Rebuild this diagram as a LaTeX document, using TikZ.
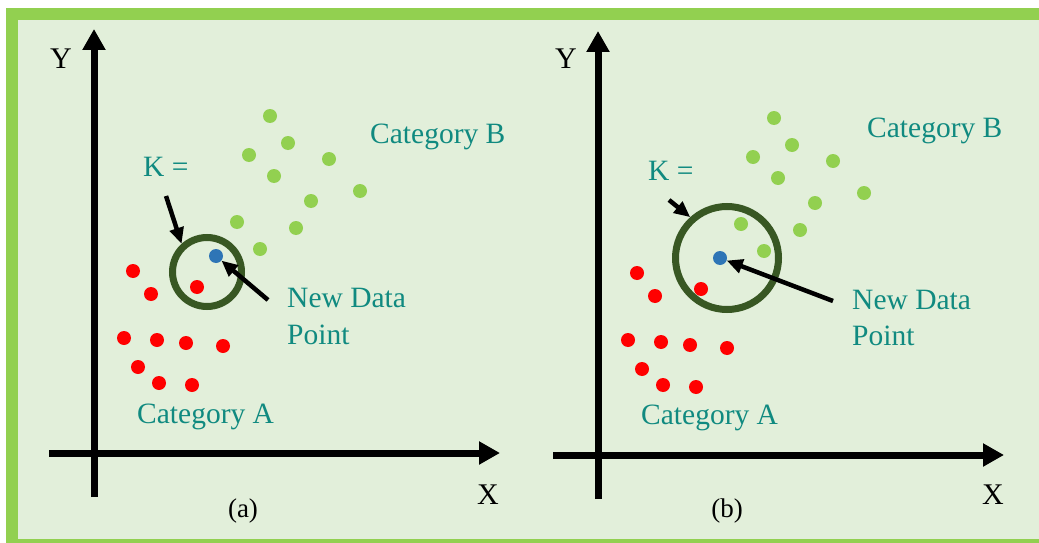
\documentclass[tikz,border=0pt]{standalone}
\usepackage{fontspec}
\setmainfont{Liberation Serif}
\usetikzlibrary{arrows.meta, positioning}
\definecolor{framegreen}{RGB}{146,208,80}
\definecolor{panelbg}{RGB}{226,239,218}
\definecolor{tealtext}{RGB}{16,138,128}
\definecolor{ringgreen}{RGB}{56,87,35}
\definecolor{ptblue}{RGB}{46,117,182}
\definecolor{ptred}{RGB}{255,0,0}

\begin{document}
\begin{tikzpicture}[x=1pt, y=-1pt,
    dot/.style={circle, inner sep=0pt, minimum size=14pt},
    catlabel/.style={text=tealtext, font=\fontsize{29.5}{37}\selectfont,
      inner sep=0pt, anchor=base west},
    axislabel/.style={font=\fontsize{30}{36}\selectfont, inner sep=0pt,
      anchor=base west},
    axis/.style={line width=7pt, -{Triangle[length=21pt, width=22pt]}},
    pointer/.style={line width=4.5pt, -{Triangle[length=16pt, width=14pt]}},
    ring/.style={circle, draw=ringgreen, line width=7pt, inner sep=0pt}]
  \useasboundingbox (0,0) rectangle (1039,543);
  \fill[white] (0,0) rectangle (1039,543);
  \clip (0,0) rectangle (1039,543);
  \filldraw[fill=panelbg, draw=framegreen, line width=12pt]
    (11.5,14) rectangle (1060,545);

  % points of both panels
  \foreach \pn/\dx/\dy in {a/0/0, b/504/2} {
    \foreach \x/\y [count=\i] in {270/116, 288/143, 249/155, 329/159, 274/176,
        360/191, 311/201, 237/222, 296/228, 260/249}
      \node[dot, fill=framegreen] (g\pn\i) at (\x+\dx, \y+\dy) {};
    \foreach \x/\y [count=\i] in {133/271, 151/294, 197/287, 124/338, 157/340,
        186/343, 223/346, 138/367, 159/383, 192/385}
      \node[dot, fill=ptred] (r\pn\i) at (\x+\dx, \y+\dy) {};
  }

  % panel (a)
  \coordinate (ya0) at (94,497);
  \coordinate (ya1) at (94,29);
  \coordinate (xa0) at (49,453);
  \coordinate (xa1) at (500,453);
  \draw[axis] (ya0) -- (ya1);
  \draw[axis] (xa0) -- (xa1);
  \node[axislabel] (ylaba) at (50,69) {Y};
  \node[axislabel] (xlaba) at (477,504) {X};
  \node[font=\fontsize{27}{32}\selectfont, inner sep=0pt, anchor=base]
    (capa) at (243,517) {(a)};
  \node[ring, minimum size=69pt] (ringa) at (207,272) {};
  \node[dot, fill=ptblue] (newa) at (216,256) {};
  \node[catlabel] (cbla) at (370,143) {Category B};
  \node[catlabel] (cala) at (137,423) {Category A};
  \node[catlabel] (kla) at (143,176) {K =};
  \node[catlabel] (nda) at (287,307) {New Data};
  \node[catlabel] (pta) at ([yshift=-37pt]nda.base west) {Point};
  \coordinate (kta) at (166,196);
  \coordinate (nta) at (268,300);
  \draw[pointer] (kta) -- (ringa.132);
  \draw[pointer] (nta) -- (newa);

  % panel (b)
  \coordinate (yb0) at (598,499);
  \coordinate (yb1) at (598,31);
  \coordinate (xb0) at (553,455);
  \coordinate (xb1) at (1004,455);
  \draw[axis] (yb0) -- (yb1);
  \draw[axis] (xb0) -- (xb1);
  \node[axislabel] (ylabb) at (555,69) {Y};
  \node[axislabel] (xlabb) at (982,504) {X};
  \node[font=\fontsize{27}{32}\selectfont, inner sep=0pt, anchor=base]
    (capb) at (727,517) {(b)};
  \node[ring, minimum size=103pt] (ringb) at (727,258) {};
  \node[dot, fill=ptblue] (newb) at (720,258) {};
  \node[catlabel] (cblb) at (867,137) {Category B};
  \node[catlabel] (calb) at (641,424) {Category A};
  \node[catlabel] (klb) at (648,180) {K =};
  \node[catlabel] (ndb) at (852,309) {New Data};
  \node[catlabel] (ptb) at ([yshift=-36pt]ndb.base west) {Point};
  \coordinate (ktb) at (669,200);
  \coordinate (ntb) at (833,301);
  \draw[pointer] (ktb) -- (ringb.132);
  \draw[pointer] (ntb) -- (newb);
\end{tikzpicture}
\end{document}
